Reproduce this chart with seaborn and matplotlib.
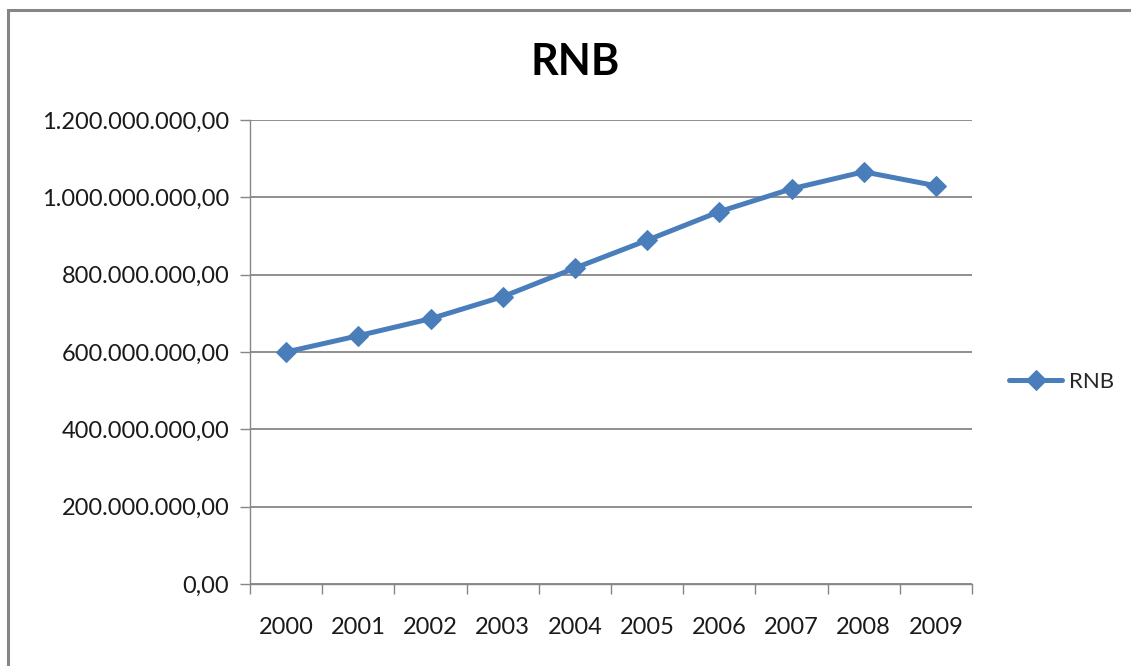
import matplotlib
matplotlib.use("Agg")
import matplotlib.pyplot as plt
import matplotlib.patches as mpatches
import seaborn as sns
import pandas as pd
import numpy as np

years = ["2000", "2001", "2002", "2003", "2004", "2005", "2006", "2007", "2008", "2009"]
rnb = [600e6, 642e6, 686e6, 743e6, 817e6, 889e6, 963e6, 1022e6, 1066e6, 1030e6]
yticks = [0, 200e6, 400e6, 600e6, 800e6, 1000e6, 1200e6]
ytick_labels = ["0,00", "200.000.000,00", "400.000.000,00", "600.000.000,00",
                "800.000.000,00", "1.000.000.000,00", "1.200.000.000,00"]

sns.set_theme(style="white")
plt.rcParams['font.family'] = ['Lato', 'DejaVu Sans']

df = pd.DataFrame({"Ano": np.arange(len(years)), "RNB": rnb})

fig = plt.figure(figsize=(11.31, 6.66), dpi=100)
ax = fig.add_axes([250/1131, 1-584/666, (972-250)/1131, (584-120)/666])

blue = "#4A7EBB"
sns.lineplot(data=df, x="Ano", y="RNB", ax=ax, color=blue, linewidth=3.6,
             marker="D", markersize=10, markeredgecolor=blue, label="RNB")

ax.set_xlim(-0.5, len(years) - 0.5)
ax.set_ylim(0, 1200e6)
ax.set_yticks(yticks)
ax.set_yticklabels(ytick_labels, fontsize=17, color="#1a1a1a")
ax.set_xticks(np.arange(len(years)))
ax.set_xticklabels(years, fontsize=17, color="#1a1a1a")
ax.set_xticks(np.arange(-0.5, len(years)), minor=True)
ax.tick_params(axis="x", which="major", length=0, pad=24)
ax.tick_params(axis="x", which="minor", length=7, width=1, color="#868686", direction="out", bottom=True)
ax.tick_params(axis="y", which="major", length=7, width=1, color="#868686", direction="out", left=True, pad=8)
ax.set_xlabel("")
ax.set_ylabel("")

ax.grid(axis="y", color="#868686", linewidth=1.3)
ax.set_axisbelow(True)
for s in ["top", "right"]:
    ax.spines[s].set_visible(False)
for s in ["left", "bottom"]:
    ax.spines[s].set_color("#868686")
    ax.spines[s].set_linewidth(1)

fig.text(575/1131, 1-62/666, "RNB", ha="center", va="center", fontsize=31, fontweight="bold", color="#000000")

leg = ax.legend(loc="center left", bbox_to_anchor=(1000/1131, 1-382/666),
                bbox_transform=fig.transFigure, frameon=False, fontsize=16,
                handlelength=2.4, handletextpad=0.3, borderaxespad=0, borderpad=0.4)

# outer chart frame
rect = mpatches.Rectangle((8/1131, -0.1), 1.2, 1 - 10/666 + 0.1, transform=fig.transFigure,
                          fill=False, edgecolor="#868686", linewidth=2.2)
fig.patches.append(rect)

fig.savefig("out.png", dpi=100)
